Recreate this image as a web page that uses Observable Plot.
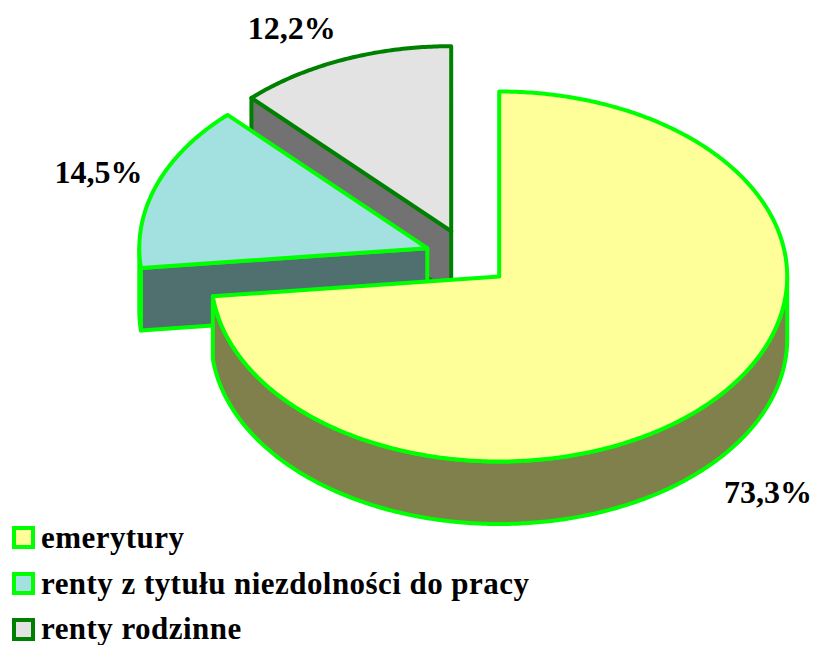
<!DOCTYPE html>
<html>
<head>
<meta charset="utf-8">
<script src="https://cdn.jsdelivr.net/npm/d3@7"></script>
<script src="https://cdn.jsdelivr.net/npm/@observablehq/plot@0.6"></script>
<style>
html,body{margin:0;padding:0;background:#fff;}
#chart svg{display:block;}
.legend{font:bold 31px "Liberation Serif",serif;color:#000;letter-spacing:0.45px;}
.row{height:46px;position:relative;white-space:nowrap;}
.row:last-child{height:27px;}
.sw{position:absolute;left:12px;top:0;width:15px;height:15px;border:4px solid;}
.lb{position:absolute;left:41px;top:-3px;line-height:30px;}
.row:last-child .lb{top:-4px;}
</style>
</head>
<body>
<div id="chart"></div>
<div id="legend" class="legend"></div>
<script>
// Data
const categories = ["emerytury", "renty z tytułu niezdolności do pracy", "renty rodzinne"];
const shares = [73.3, 14.5, 12.2];
const labels = ["73,3%", "14,5%", "12,2%"];

// Styles
const topColors = ["#FFFF99", "#A3E0E0", "#E3E3E3"];
const wallColors = ["#80804C", "#507070", "#727272"];
const strokeColors = ["#00FF00", "#00FF00", "#008000"];

// Layout of the exploded 3D pie
const apexX = [498.7, 426.8, 450.7];
const apexY = [276, 247.7, 230.7];
const labelKx = [1.255, 1.215, 1.48];
const labelKy = [1.245, 1.2, 1.18];
const rx = 288, ry = 185, depth = 62.5;

const W = 813, H = 526;
const total = d3.sum(shares);
const cum = d3.cumsum(shares);
const angle = (s) => (s / total) * 2 * Math.PI;

const slices = shares.map((s, i) => ({
  a0: angle(i === 0 ? 0 : cum[i - 1]),
  a1: angle(cum[i]),
  cx: apexX[i], cy: apexY[i]
}));

const pt = (sl, a, dz = 0) => ({
  x: sl.cx + rx * Math.sin(a),
  y: sl.cy - ry * Math.cos(a) + dz
});
const arc = (sl, a0, a1, dz = 0) => {
  const n = Math.max(2, Math.ceil(Math.abs(a1 - a0) / 0.01));
  return d3.range(n + 1).map((k) => pt(sl, a0 + (a1 - a0) * k / n, dz));
};
const apex = (sl, dz = 0) => ({x: sl.cx, y: sl.cy + dz});
const closed = (p) => [...p, p[0]];

const topFace = (sl) => closed([apex(sl), ...arc(sl, sl.a0, sl.a1)]);
// straight cut wall running from the apex to the rim at angle a
const cutWall = (sl, a) => closed([apex(sl), pt(sl, a), pt(sl, a, depth), apex(sl, depth)]);
// curved outer wall over the angles a0..a1
const rimWall = (sl, a0, a1) => closed([...arc(sl, a0, a1), ...arc(sl, a1, a0, depth)]);

const face = (pts, fill, stroke) =>
  Plot.line(pts, {x: "x", y: "y", fill, stroke, strokeWidth: 4, strokeLinejoin: "round", curve: "linear"});

const [yel, blu, gry] = slices;
const marks = [
  // grey slice
  face(cutWall(gry, gry.a0), wallColors[2], strokeColors[2]),
  face(topFace(gry), topColors[2], strokeColors[2]),
  // blue slice
  face(cutWall(blu, blu.a0), wallColors[1], strokeColors[1]),
  face(rimWall(blu, blu.a0, 1.5 * Math.PI), wallColors[1], strokeColors[1]),
  face(topFace(blu), topColors[1], strokeColors[1]),
  // yellow slice
  face(rimWall(yel, 0.5 * Math.PI, yel.a1), wallColors[0], strokeColors[0]),
  face(topFace(yel), topColors[0], strokeColors[0])
];

// The front slice's label sits below its wall, so it also moves down by the depth
const labelData = slices.map((sl, i) => {
  const mid = (sl.a0 + sl.a1) / 2;
  return {
    x: sl.cx + rx * labelKx[i] * Math.sin(mid),
    y: sl.cy - ry * labelKy[i] * Math.cos(mid) + (i === 0 ? depth : 0),
    label: labels[i]
  };
});

marks.push(Plot.text(labelData, {
  x: "x", y: "y", text: "label",
  fontFamily: "Liberation Serif", fontWeight: "bold", fontSize: 32,
  fill: "#000", textAnchor: "middle", lineAnchor: "middle"
}));

const chart = Plot.plot({
  width: W, height: H,
  margin: 0,
  x: {domain: [0, W], range: [0, W], axis: null},
  y: {domain: [0, H], range: [0, H], axis: null},
  style: {background: "transparent", overflow: "visible"},
  marks
});
document.getElementById("chart").append(chart);

const lg = d3.select("#legend");
categories.forEach((c, i) => {
  const r = lg.append("div").attr("class", "row");
  r.append("span").attr("class", "sw")
    .style("background", topColors[i]).style("border-color", strokeColors[i]);
  r.append("span").attr("class", "lb").text(c);
});
</script>
</body>
</html>
